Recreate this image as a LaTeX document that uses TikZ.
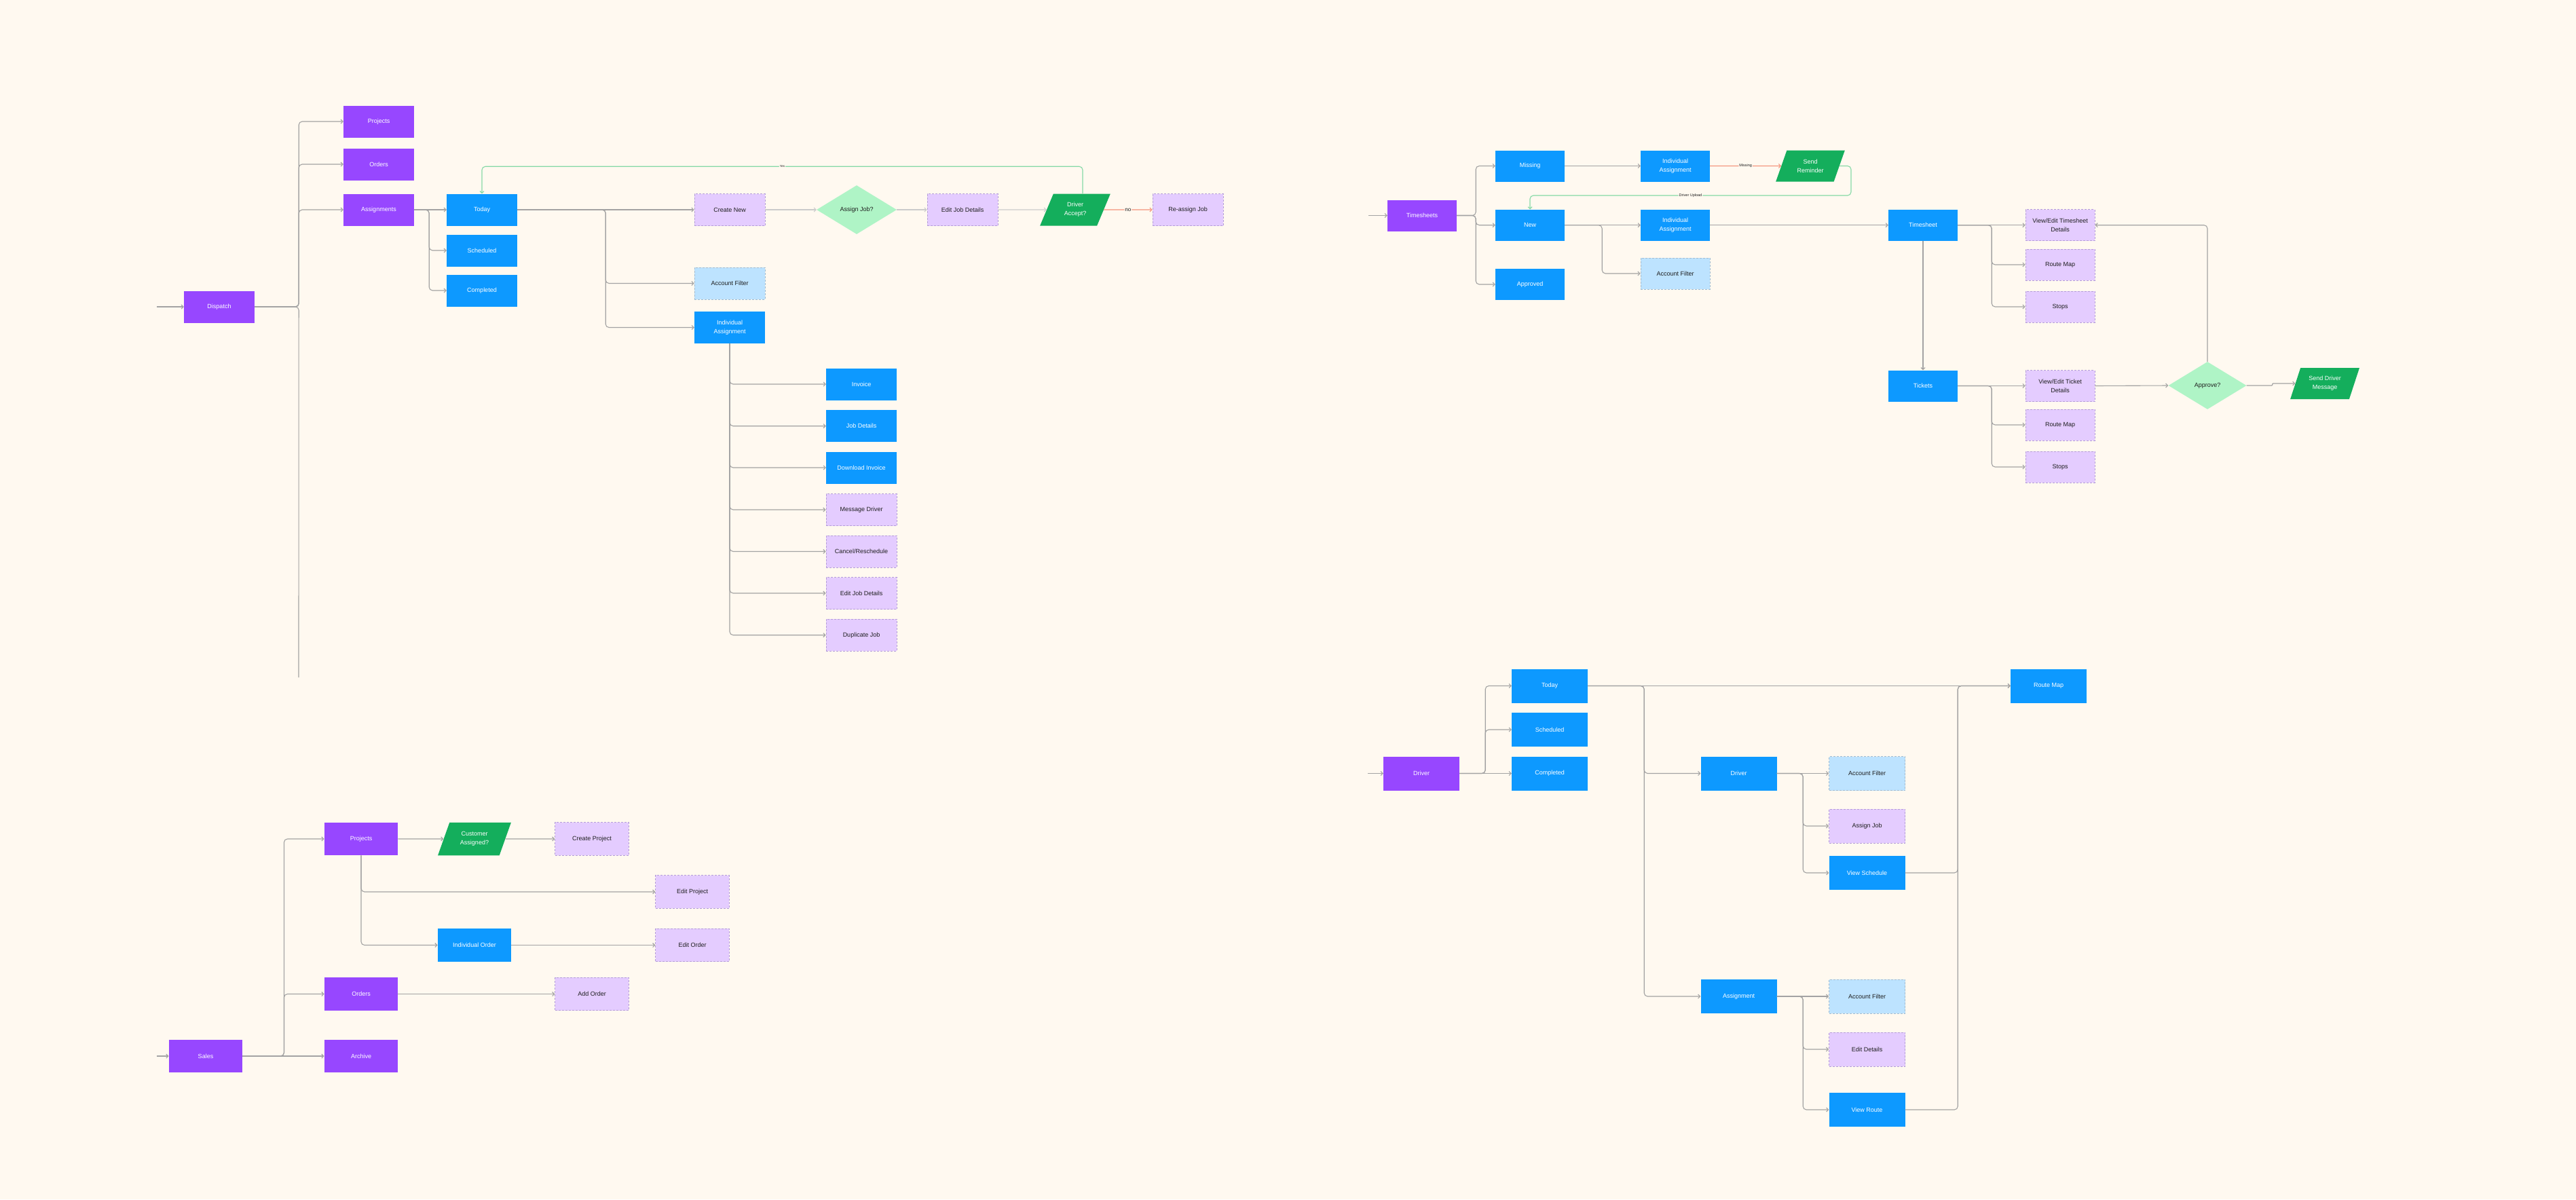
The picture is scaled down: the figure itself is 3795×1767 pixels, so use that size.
\documentclass[tikz,border=0pt]{standalone}
\usepackage{fontspec}
\setmainfont{Liberation Sans}
\usetikzlibrary{arrows.meta,shapes.geometric}

\definecolor{figbg}{HTML}{FFF9F0}
\definecolor{figpurple}{HTML}{9747FF}
\definecolor{figblue}{HTML}{0D99FF}
\definecolor{figlilac}{HTML}{E4CCFF}
\definecolor{figlilacedge}{HTML}{B59ED8}
\definecolor{figsky}{HTML}{BDE3FF}
\definecolor{figskyedge}{HTML}{A3BCD0}
\definecolor{figmint}{HTML}{AFF4C6}
\definecolor{figgreen}{HTML}{14AE5C}
\definecolor{figink}{HTML}{1E1E1E}
\definecolor{figline}{HTML}{A3A3A3}
\definecolor{figsoft}{HTML}{CBCBCB}
\definecolor{figyes}{HTML}{85D9A6}
\definecolor{figno}{HTML}{F4937A}

\begin{document}
\begin{tikzpicture}[x=1pt,y=-1pt,
  font=\fontsize{9}{13}\selectfont,
  boxsize/.style={minimum width=104pt,minimum height=47pt},
  base/.style={boxsize,inner sep=2pt,align=center},
  purplebox/.style={base,fill=figpurple,text=white},
  bluebox/.style={base,fill=figblue,text=white},
  lilacbox/.style={base,fill=figlilac,draw=figlilacedge,line width=0.9pt,
                   dash pattern=on 3pt off 2pt,text=figink},
  skybox/.style={base,fill=figsky,draw=figskyedge,line width=0.9pt,
                 dash pattern=on 3pt off 2pt,text=figink},
  decision/.style={diamond,fill=figmint,text=figink,inner sep=0pt,align=center},
  inputbox/.style={trapezium,trapezium left angle=65,trapezium right angle=115,
                   trapezium stretches=true,boxsize,inner sep=0pt,
                   fill=figgreen,text=white,align=center},
  link/.style={draw=figline,line width=1.1pt,rounded corners=5pt},
  conn/.style={link,-{Straight Barb[length=3pt,width=6pt]}},
  softconn/.style={conn,draw=figsoft},
  yesline/.style={conn,draw=figyes},
  noline/.style={conn,draw=figno},
  tag/.style={fill=figbg,text=figink,inner sep=1pt,font=\fontsize{5.5}{6}\selectfont}
]
  \path[use as bounding box,fill=figbg] (0,0) rectangle (3795,1767);

  % Dispatch
  \node[purplebox] (dsp) at (323,452) {Dispatch};
  \node[purplebox] (dproj) at (558,179) {Projects};
  \node[purplebox] (dord) at (558,242) {Orders};
  \node[purplebox] (dasg) at (558,309) {Assignments};
  \node[bluebox] (dtoday) at (710,309) {Today};
  \node[bluebox] (dsched) at (710,369) {Scheduled};
  \node[bluebox] (dcomp) at (710,428) {Completed};
  \node[lilacbox] (dnew) at (1075,309) {Create New};
  \node[skybox] (dacc) at (1075,417.5) {Account Filter};
  \node[bluebox] (dind) at (1075,482.5) {Individual\\Assignment};
  \node[decision,minimum width=118pt,minimum height=72pt] (dasgq) at (1262,309) {Assign Job?};
  \node[lilacbox] (dedit) at (1418,309) {Edit Job Details};
  \node[inputbox] (dacpt) at (1584,309) {Driver\\Accept?};
  \node[lilacbox] (dreas) at (1750,309) {Re-assign Job};
  \node[bluebox] (inv) at (1269,566) {Invoice};
  \node[bluebox] (jobd) at (1269,627.7) {Job Details};
  \node[bluebox] (dlinv) at (1269,689) {Download Invoice};
  \node[lilacbox] (msgd) at (1269,751) {Message Driver};
  \node[lilacbox] (cresch) at (1269,812.5) {Cancel/Reschedule};
  \node[lilacbox] (editjd) at (1269,874) {Edit Job Details};
  \node[lilacbox] (dupj) at (1269,935.7) {Duplicate Job};

  \coordinate (dspin) at (231,452);
  \coordinate (dspend) at (440,998);
  \draw[conn] (dspin) -- (dsp.west);
  \draw[link] (dsp.east) -- ++(65,0) -- (dspend);
  \draw[conn] (dsp.east) -- ++(65,0) |- (dproj.west);
  \draw[conn] (dsp.east) -- ++(65,0) |- (dord.west);
  \draw[conn] (dsp.east) -- ++(65,0) |- (dasg.west);
  \draw[conn] (dasg.east) -- (dtoday.west);
  \draw[conn] (dasg.east) -- ++(22,0) |- (dsched.west);
  \draw[conn] (dasg.east) -- ++(22,0) |- (dcomp.west);
  \draw[conn] (dtoday.east) -- (dnew.west);
  \draw[conn] (dtoday.east) -- ++(130,0) |- (dacc.west);
  \draw[conn] (dtoday.east) -- ++(130,0) |- (dind.west);
  \draw[softconn] (dnew.east) -- (dasgq.west);
  \draw[softconn] (dasgq.east) -- (dedit.west);
  \draw[softconn] (dedit.east) -- (dacpt.west);
  \draw[noline] (dacpt.east) -- node[tag,font=\fontsize{8}{9}\selectfont] {no} (dreas.west);
  \draw[yesline] ([xshift=11pt]dacpt.north) -- ++(0,-40) -| node[pos=0.25,tag,font=\fontsize{4.5}{5}\selectfont] {Yes} (dtoday.north);
  \draw[conn] (dind.south) |- (inv.west);
  \draw[conn] (dind.south) |- (jobd.west);
  \draw[conn] (dind.south) |- (dlinv.west);
  \draw[conn] (dind.south) |- (msgd.west);
  \draw[conn] (dind.south) |- (cresch.west);
  \draw[conn] (dind.south) |- (editjd.west);
  \draw[conn] (dind.south) |- (dupj.west);

  % Timesheets
  \begin{scope}[boxsize/.style={minimum width=102pt,minimum height=46pt}]
    \node[purplebox] (tsh) at (2095,317.5) {Timesheets};
    \node[bluebox] (tmiss) at (2254,244.5) {Missing};
    \node[bluebox] (tnew) at (2254,331.7) {New};
    \node[bluebox] (tappr) at (2254,419) {Approved};
    \node[bluebox] (tind1) at (2468,244.5) {Individual\\Assignment};
    \node[bluebox] (tind2) at (2468,331.7) {Individual\\Assignment};
    \node[skybox] (tacc) at (2468,403) {Account Filter};
    \node[inputbox] (trem) at (2667,244.5) {Send\\Reminder};
    \node[bluebox] (tsheet) at (2833,331.7) {Timesheet};
    \node[bluebox] (ttick) at (2833,568.5) {Tickets};
    \node[lilacbox] (tvts) at (3035,331.7) {View/Edit Timesheet\\Details};
    \node[lilacbox] (trm1) at (3035,390) {Route Map};
    \node[lilacbox] (tstop1) at (3035,452) {Stops};
    \node[lilacbox] (tvtk) at (3035,568.5) {View/Edit Ticket\\Details};
    \node[lilacbox] (trm2) at (3035,626) {Route Map};
    \node[lilacbox] (tstop2) at (3035,688) {Stops};
    \node[decision,minimum width=115pt,minimum height=70pt] (tappq) at (3252,568) {Approve?};
    \node[inputbox] (tmsg) at (3425,565) {Send Driver\\Message};
  \end{scope}

  \coordinate (tshin) at (2016,317.5);
  \draw[conn] (tshin) -- (tsh.west);
  \draw[conn] (tsh.east) -- ++(28,0) |- (tmiss.west);
  \draw[conn] (tsh.east) -- ++(28,0) |- (tnew.west);
  \draw[conn] (tsh.east) -- ++(28,0) |- (tappr.west);
  \draw[conn] (tmiss.east) -- (tind1.west);
  \draw[noline] (tind1.east) -- node[tag] {Missing} (trem.west);
  \draw[yesline] (trem.east) -- ++(17,0) -- ++(0,43.5) -| node[pos=0.25,tag] {Driver Upload} (tnew.north);
  \draw[conn] (tnew.east) -- (tind2.west);
  \draw[conn] (tnew.east) -- ++(55,0) |- (tacc.west);
  \draw[conn] (tind2.east) -- (tsheet.west);
  \draw[conn] (tsheet.east) -- (tvts.west);
  \draw[conn] (tsheet.east) -- ++(50,0) |- (trm1.west);
  \draw[conn] (tsheet.east) -- ++(50,0) |- (tstop1.west);
  \draw[conn] (tsheet.south) -- (ttick.north);
  \draw[conn] (ttick.east) -- (tvtk.west);
  \draw[conn] (ttick.east) -- ++(50,0) |- (trm2.west);
  \draw[conn] (ttick.east) -- ++(50,0) |- (tstop2.west);
  \draw[conn] (tvtk.east) -- (tappq.west);
  \draw[conn] (tappq.north) |- (tvts.east);
  \draw[conn,rounded corners=1pt] (tappq.east) -- ++(38,0) -- ++(0,-3) -- (tmsg.west);

  % Sales
  \begin{scope}[boxsize/.style={minimum width=108.5pt,minimum height=48.5pt}]
    \node[purplebox] (sal) at (303,1556) {Sales};
    \node[purplebox] (sproj) at (532,1236) {Projects};
    \node[purplebox] (sord) at (532,1464.5) {Orders};
    \node[purplebox] (sarch) at (532,1556) {Archive};
    \node[inputbox] (scust) at (699,1236) {Customer\\Assigned?};
    \node[lilacbox] (screate) at (872,1236) {Create Project};
    \node[lilacbox] (seditp) at (1020,1314) {Edit Project};
    \node[bluebox] (sindo) at (699,1392.5) {Individual Order};
    \node[lilacbox] (seditor) at (1020,1392.5) {Edit Order};
    \node[lilacbox] (sadd) at (872,1464.5) {Add Order};
  \end{scope}

  \coordinate (salin) at (231,1556);
  \draw[conn] (salin) -- (sal.west);
  \draw[conn] (sal.east) -- ++(61,0) |- (sproj.west);
  \draw[conn] (sal.east) -- ++(61,0) |- (sord.west);
  \draw[conn] (sal.east) -- (sarch.west);
  \draw[conn] (sproj.east) -- (scust.west);
  \draw[conn] (scust.east) -- (screate.west);
  \draw[conn] (sproj.south) |- (seditp.west);
  \draw[conn] (sproj.south) |- (sindo.west);
  \draw[conn] (sindo.east) -- (seditor.west);
  \draw[conn] (sord.east) -- (sadd.west);

  % Driver
  \begin{scope}[boxsize/.style={minimum width=112pt,minimum height=50pt}]
    \node[purplebox] (drv) at (2094,1139.5) {Driver};
    \node[bluebox] (dvtoday) at (2283,1010.5) {Today};
    \node[bluebox] (dvsched) at (2283,1075) {Scheduled};
    \node[bluebox] (dvcomp) at (2283,1139.5) {Completed};
    \node[bluebox] (dvdrv) at (2561.5,1139.5) {Driver};
    \node[bluebox] (dvasg) at (2561.5,1468) {Assignment};
    \node[skybox] (dvacc1) at (2750.5,1139.5) {Account Filter};
    \node[lilacbox] (dvjob) at (2750.5,1217) {Assign Job};
    \node[bluebox] (dvsch) at (2750.5,1286) {View Schedule};
    \node[skybox] (dvacc2) at (2750.5,1468) {Account Filter};
    \node[lilacbox] (dvedit) at (2750.5,1546) {Edit Details};
    \node[bluebox] (dvroute) at (2750.5,1635) {View Route};
    \node[bluebox] (dvmap) at (3018,1010.5) {Route Map};
  \end{scope}

  \coordinate (drvin) at (2015,1139.5);
  \draw[conn] (drvin) -- (drv.west);
  \draw[conn] (drv.east) -- ++(38,0) |- (dvtoday.west);
  \draw[conn] (drv.east) -- ++(38,0) |- (dvsched.west);
  \draw[conn] (drv.east) -- (dvcomp.west);
  \draw[conn] (dvtoday.east) -- (dvmap.west);
  \draw[conn] (dvtoday.east) -- ++(83,0) |- (dvdrv.west);
  \draw[conn] (dvtoday.east) -- ++(83,0) |- (dvasg.west);
  \draw[conn] (dvdrv.east) -- (dvacc1.west);
  \draw[conn] (dvdrv.east) -- ++(38.5,0) |- (dvjob.west);
  \draw[conn] (dvdrv.east) -- ++(38.5,0) |- (dvsch.west);
  \draw[conn] (dvasg.east) -- (dvacc2.west);
  \draw[conn] (dvasg.east) -- ++(38.5,0) |- (dvedit.west);
  \draw[conn] (dvasg.east) -- ++(38.5,0) |- (dvroute.west);
  \draw[conn] (dvsch.east) -- ++(77.5,0) |- (dvmap.west);
  \draw[conn] (dvroute.east) -- ++(77.5,0) |- (dvmap.west);
\end{tikzpicture}
\end{document}
